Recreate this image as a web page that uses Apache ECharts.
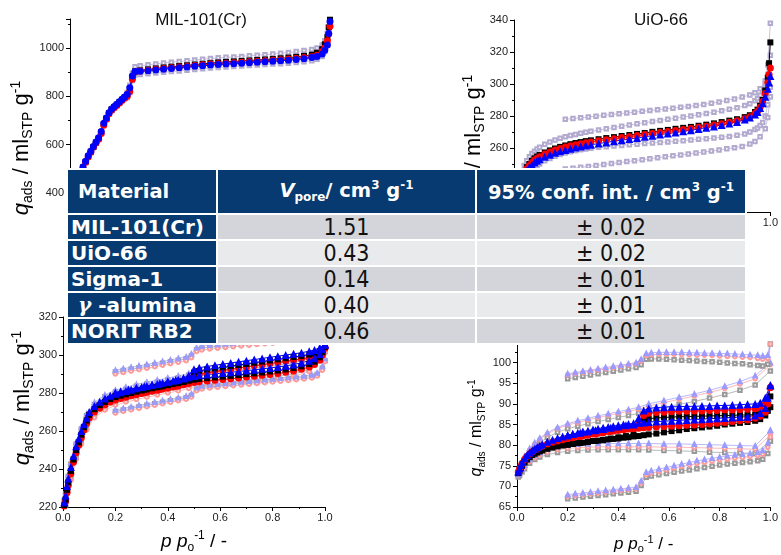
<!DOCTYPE html>
<html>
<head>
<meta charset="UTF-8">
<title>Isotherms and pore volumes</title>
<script src="https://cdn.jsdelivr.net/npm/echarts@6/dist/echarts.min.js"></script>
<style>
  body { margin: 0; background: #fff; }
  #wrap { position: relative; width: 781px; height: 555px; }
  #chart { position: absolute; left: 0; top: 0; width: 781px; height: 555px; }
  #tbl { position: absolute; left: 66px; top: 168px; border-collapse: separate; border-spacing: 2px;
         table-layout: fixed; background: #fff; font-family: "DejaVu Sans", sans-serif; }
  #tbl th { height: 43px; padding: 0; background: #063a70; color: #fff; font-weight: bold; font-size: 19.5px; }
  #tbl th.first { text-align: left; padding-left: 10px; }
  #tbl td { height: 24px; padding: 0; line-height: 24px; }
  #tbl td.mat { background: #063a70; color: #fff; font-weight: bold; font-size: 20px; padding-left: 3px; white-space: nowrap; }
  #tbl td.val { text-align: center; font-family: "DejaVu Sans Condensed", sans-serif; font-size: 23px; color: #111; }
  #tbl tr.odd td.val { background: #d4d5da; }
  #tbl tr.even td.val { background: #e9eaec; }
  #tbl sub, #tbl sup { font-size: 12px; }
</style>
</head>
<body>
<div id="wrap">
  <div id="chart"></div>
  <table id="tbl"></table>
</div>
<script type="text/javascript">
// ---- table data ----
var materials = ['MIL-101(Cr)', 'UiO-66', 'Sigma-1', 'γ-alumina', 'NORIT RB2'];
var vpore = ['1.51', '0.43', '0.14', '0.40', '0.46'];
var confInt = ['± 0.02', '± 0.02', '± 0.01', '± 0.01', '± 0.01'];

// ---- MIL-101(Cr) ----
var pA = [0.005,0.01,0.015,0.02,0.03,0.04,0.05,0.06,0.07,0.08,0.09,0.10,0.11,0.12,0.13,0.14,0.15,0.16,0.17,0.18,0.19,0.20,0.21,0.22,0.23,0.24,0.25,0.27,0.30,0.33,0.36,0.39,0.42,0.45,0.48,0.51,0.54,0.57,0.60,0.63,0.66,0.69,0.72,0.75,0.78,0.81,0.84,0.87,0.90,0.93,0.95,0.97,0.98,0.99,0.995,1.0];
var blackA = [300,330,355,380,420,465,505,528,551,570,590,608,625,650,685,708,730,745,755,765,775,785,795,805,830,880,903,907,911,915,919,922,925,928,931,934,937,940,942,944,946,948,950,952,954,957,960,963,967,972,980,995,1015,1045,1085,1117];
var redA = [298,327,352,377,417,462,502,526,548,568,588,606,622,646,680,705,727,742,752,762,772,782,792,800,820,870,900,904,908,912,915,918,921,924,927,930,933,935,937,939,941,943,945,947,949,951,954,957,960,964,970,985,1000,1030,1058,1090];
var blueA = [302,333,358,383,423,468,507,530,553,572,592,610,628,654,688,710,732,747,757,767,777,787,797,808,835,884,902,903,906,909,912,915,918,921,924,926,929,931,933,935,937,939,941,943,945,947,949,952,955,960,965,975,990,1012,1060,1110];
var pBandA = [0.22,0.23,0.24,0.25,0.27,0.30,0.33,0.36,0.39,0.42,0.45,0.48,0.51,0.54,0.57,0.60,0.63,0.66,0.69,0.72,0.75,0.78,0.81,0.84,0.87,0.90,0.93,0.95,0.97,0.98,0.99];
var upA = [815,845,895,922,926,930,934,938,941,944,947,950,953,956,959,961,963,965,968,970,972,975,978,981,985,989,994,1000,1012,1030,1060];
var lowA = [795,815,865,888,890,893,896,899,902,905,908,911,914,917,919,921,923,925,927,929,931,933,935,937,940,943,947,953,965,985,1020];

// ---- UiO-66 ----
var pAdsB = [0.005,0.01,0.02,0.03,0.04,0.05,0.06,0.07,0.08,0.09,0.10,0.12,0.14,0.16,0.18,0.20,0.22,0.24,0.26,0.28,0.30,0.33,0.36,0.39,0.42,0.45,0.48,0.51,0.54,0.57,0.60,0.63,0.66,0.69,0.72,0.75,0.78,0.81,0.84,0.87,0.90,0.92,0.94,0.95,0.96,0.97,0.98,0.99,0.995,1.0];
var blackB = [228,233,238,242,245,248,250,252,253.5,254.6,255.6,257.2,258.5,259.7,260.7,261.6,262.4,263.1,263.7,264.3,264.8,265.5,266.2,266.8,267.5,268.1,268.8,269.4,270.1,270.7,271.3,272,272.6,273.2,273.9,274.6,275.4,276.2,277.1,278,279.3,280.5,282.5,284,286.5,290,296,304,313,326];
var redB = [227,232,237,241,244,247,249,251,252.5,253.6,254.6,256.2,257.5,258.7,259.7,260.6,261.4,262.1,262.7,263.3,263.8,264.5,265.2,265.8,266.5,267.1,267.8,268.4,269.1,269.7,270.3,271,271.6,272.2,272.9,273.6,274.4,275.2,276.1,277,278.3,279.5,281.5,283,285.5,289,294,301,306,310];
var blueB = [226,231,236,240,243,246,248,249.5,251,252,253,254.6,255.8,257,258,258.8,259.6,260.3,260.9,261.5,262,262.8,263.5,264.2,264.9,265.6,266.3,267,267.7,268.4,269,269.7,270.4,271.1,271.9,272.7,273.5,274.4,275.3,276.3,277.8,279,281,282.5,285,288,292,297,301,305];
var upAdsB = [231,236,241,245,249,252,254.5,256.5,258,259.3,260.5,262.3,263.8,265,266.1,267,267.8,268.5,269.2,269.8,270.4,271.2,272,272.8,273.6,274.3,275.1,275.8,276.5,277.2,277.9,278.6,279.3,280,280.8,281.6,282.4,283.3,284.2,285.2,286.5,287.7,289.5,291,293,296,300,306,311,318];
var lowAdsB = [222,227,232,236,239,242,244,246,247.5,248.8,250,252,253.5,254.8,255.9,256.8,257.6,258.3,258.9,259.4,259.9,260.4,260.8,261.2,261.6,262,262.4,262.8,263.2,263.5,263.8,264.2,264.6,265,265.4,265.8,266.2,266.7,267.2,267.9,268.8,270,271.5,272.5,274,276,280,287,292,298];
var pDesB = [0.20,0.23,0.26,0.29,0.32,0.35,0.38,0.41,0.44,0.47,0.50,0.53,0.56,0.59,0.62,0.65,0.68,0.71,0.74,0.77,0.80,0.83,0.86,0.89,0.92,0.94,0.96,0.98,0.99,1.0];
var upDesB = [277.9,278.4,278.9,279.4,279.9,280.4,280.9,281.4,281.9,282.4,282.9,283.4,283.9,284.4,284.9,285.4,285.9,286.5,287.2,288,288.8,289.7,290.7,291.8,293.2,294.5,297,302,312,338];
var lowDesB = [246.8,247.3,247.9,248.5,249.1,249.7,250.3,250.9,251.5,252.1,252.7,253.3,253.9,254.5,255.1,255.7,256.3,256.9,257.5,258.1,258.8,259.5,260.2,261,262.5,264,267,272,279,292];

// ---- shared pressure grids for the two lower panels ----
var pAds = [0.005,0.01,0.015,0.02,0.03,0.04,0.05,0.06,0.07,0.08,0.09,0.10,0.12,0.14,0.16,0.18,0.20,0.22,0.24,0.26,0.28,0.30,0.32,0.34,0.36,0.38,0.40,0.42,0.44,0.46,0.48,0.50,0.52,0.55,0.58,0.61,0.64,0.67,0.70,0.73,0.76,0.79,0.82,0.85,0.88,0.91,0.94,0.96,0.98,0.99,1.0];
var pDes = [1.0,0.98,0.96,0.94,0.91,0.88,0.85,0.82,0.79,0.76,0.73,0.70,0.67,0.64,0.61,0.58,0.55,0.52,0.50,0.48,0.46,0.43,0.40,0.37,0.34,0.31,0.28,0.25,0.22,0.20];
var pBandAds = [0.005,0.01,0.02,0.03,0.05,0.07,0.09,0.12,0.16,0.20,0.24,0.28,0.32,0.36,0.40,0.44,0.48,0.52,0.58,0.64,0.70,0.76,0.82,0.88,0.94,1.0];
var pBandDes = [0.20,0.23,0.26,0.29,0.32,0.35,0.38,0.41,0.44,0.47,0.49,0.51,0.53,0.56,0.59,0.62,0.65,0.68,0.71,0.74,0.77,0.80,0.83,0.86,0.89,0.92,0.95,0.97,0.99,1.0];

// ---- lower left panel ----
var blackAdsC = [221,224,229,233,239,245,250,254,258,262,265.5,268.5,271.5,273.6,275.3,276.8,277.8,278.6,279.3,280,280.7,281.3,281.9,282.5,283,283.6,284.1,284.7,285.2,285.8,286.5,287,287.4,287.8,288.2,288.6,289,289.4,289.9,290.3,290.8,291.3,291.8,292.4,293.1,294,295.2,296.5,298.8,301.5,304.5];
var redAdsC = [220.5,223,227.5,231.5,237.5,243.5,248.5,252.5,256.5,260.5,264,267,270,272,273.8,275.3,276.3,277.1,277.8,278.5,279.2,279.8,280.4,281,281.5,282.1,282.6,283.2,283.7,284.3,285,285.5,285.9,286.3,286.7,287.1,287.5,287.9,288.4,288.8,289.3,289.8,290.3,290.9,291.6,292.5,293.7,295,297.3,300,304];
var blueAdsC = [222.5,226,231,235,241,247,252,256,260,263.5,267,270,273.2,275.4,277.1,278.6,279.6,280.4,281.1,281.8,282.5,283.1,283.7,284.3,284.8,285.4,285.9,286.5,287,287.6,288.3,289,289.3,289.7,290.1,290.5,290.9,291.3,291.8,292.2,292.7,293.2,293.7,294.3,295,295.9,297,298.3,300.5,303,305.5];
var blackDesC = [304.5,302,300.8,300.2,299.5,298.9,298.3,297.7,297.1,296.5,295.9,295.3,294.7,294.1,293.5,292.9,292.3,291.6,290.8,287.5,286.2,285.2,284.3,283.4,282.6,281.8,281,280.1,279.2,278.5];
var redDesC = [303.5,300.4,299.2,298.6,297.9,297.3,296.7,296.1,295.5,294.9,294.3,293.7,293.1,292.5,291.9,291.3,290.7,290,289.2,285.9,284.6,283.6,282.7,281.8,281,280.2,279.4,278.5,277.6,276.9];
var blueDesC = [305.5,303.8,302.6,302,301.2,300.6,300,299.4,298.8,298.2,297.6,297,296.4,295.8,295.2,294.6,294,293.3,292.5,289.2,287.9,286.9,286,285.1,284.3,283.5,282.7,281.8,280.9,280.2];
var upAdsBlueC = [224,228,237,243.5,254,262,269,275,279,281.5,283,284.5,285.7,286.8,287.9,289,290.3,291.2,292,292.8,293.7,294.6,295.6,297,299.2,306];
var upAdsGrayC = [223.5,227,236,242.5,253,261,268,274,278,280.5,282,283.5,284.7,285.8,286.9,288,289.3,290.2,291,291.8,292.7,293.6,294.6,296,298.2,305.5];
var lowAdsGrayC = [219,221,229,235,246,254,261.5,268,272,274.6,276.2,277.6,278.8,279.9,281,282.1,283.4,284.3,285.1,285.9,286.8,287.7,288.7,290,292.2,302];
var lowAdsRedC = [218.5,220.5,228,234,245,253,260.5,267,271,273.6,275.2,276.6,277.8,278.9,280,281.1,282.4,283.3,284.1,284.9,285.8,286.7,287.7,289,291.2,301];
var upDesBlueC = [292,292.8,293.5,294.3,295,295.8,296.6,297.4,298.2,299,300.5,303.8,304.6,305.1,305.5,305.9,306.3,306.7,307.1,307.5,307.9,308.2,308.6,309,309.3,309.6,310,310.3,309,306];
var upDesGrayC = [291,291.8,292.5,293.3,294,294.8,295.6,296.4,297.2,298,299.5,302.8,303.6,304.1,304.5,304.9,305.3,305.7,306.1,306.5,306.9,307.2,307.6,308,308.3,308.6,309,309.3,308,305.5];
var upDesRedC = [290,290.8,291.5,292.3,293,293.8,294.6,295.4,296.2,297,298.5,301.8,302.6,303.1,303.5,303.9,304.3,304.7,305.1,305.5,305.9,306.2,306.6,307,307.3,307.6,308,308.3,307,305];
var lowDesBlueC = [271,271.9,272.7,273.5,274.3,275.1,275.9,276.7,277.5,278.3,279.5,282.8,283.7,284.2,284.6,285,285.4,285.8,286.2,286.6,287,287.4,287.8,288.2,288.6,289,289.5,290.5,294,298];
var lowDesGrayC = [270.2,271.1,271.9,272.7,273.5,274.3,275.1,275.9,276.7,277.5,278.7,282,282.9,283.4,283.8,284.2,284.6,285,285.4,285.8,286.2,286.6,287,287.4,287.8,288.2,288.7,289.7,293,297];
var lowDesRedC = [269.4,270.3,271.1,271.9,272.7,273.5,274.3,275.1,275.9,276.7,277.9,281.2,282.1,282.6,283,283.4,283.8,284.2,284.6,285,285.4,285.8,286.2,286.6,287,287.4,287.9,288.9,292,296.5];

// ---- lower right panel ----
var blackAdsD = [73.2,73.8,74.4,75,75.8,76.5,77.1,77.6,77.9,78.2,78.5,78.7,79.1,79.4,79.7,79.9,80.1,80.3,80.5,80.6,80.8,81,81.1,81.2,81.4,81.5,81.6,81.8,81.9,82.1,82.2,82.4,82.6,82.8,83.1,83.4,83.6,83.9,84.1,84.3,84.5,84.7,85,85.2,85.4,85.6,85.9,86.3,87.2,88.3,89.2];
var redAdsD = [73.5,74.2,74.9,75.6,76.5,77.3,77.9,78.4,78.8,79.2,79.5,79.8,80.3,80.7,81,81.3,81.6,81.9,82.1,82.3,82.5,82.7,82.9,83.1,83.3,83.4,83.6,83.7,83.9,84,84.1,84.2,84.3,84.4,84.5,84.6,84.7,84.8,84.9,85,85.1,85.3,85.5,85.7,85.9,86.1,86.5,87,88,90,94];
var blueAdsD = [73.6,74.4,75.2,75.9,76.8,77.6,78.2,78.7,79.1,79.5,79.9,80.2,80.8,81.3,81.7,82.1,82.4,82.7,83,83.3,83.5,83.8,84,84.2,84.4,84.6,84.8,85,85.1,85.3,85.4,85.5,85.6,85.7,85.8,85.9,86,86.1,86.2,86.3,86.4,86.5,86.6,86.7,86.8,86.9,87.2,87.8,89,91.5,94.5];
var blackDesD = [91.8,88.2,87.5,87.4,87.3,87.3,87.2,87.2,87.1,87.1,87,87,86.9,86.9,86.8,86.7,86.6,86.4,86,84.5,82.6,82.2,81.9,81.6,81.3,81,80.8,80.5,80.3,80.1];
var redDesD = [94,90,89,88.8,88.7,88.6,88.5,88.5,88.4,88.4,88.3,88.3,88.2,88.2,88.1,88,87.9,87.7,87.2,85.5,84.2,83.9,83.6,83.3,83,82.7,82.4,82.1,81.8,81.6];
var blueDesD = [94.5,91.5,90.3,90,89.9,89.8,89.7,89.6,89.6,89.5,89.5,89.4,89.4,89.3,89.3,89.2,89.1,88.9,88.4,86.6,85,84.8,84.5,84.2,83.9,83.6,83.3,83,82.7,82.4];
var upAdsBlueD = [74,74.5,76,77.3,79.2,80.6,81.7,83,84.3,85.2,85.9,86.5,87.1,87.6,88.1,88.6,89.2,90,90.8,91.6,92.4,93.3,94.3,95.4,96.8,100];
var upAdsRedD = [73.8,74.3,75.7,77,78.9,80.3,81.4,82.7,84,84.9,85.5,86.1,86.7,87.2,87.7,88.2,88.7,89.5,90.3,91.1,91.9,92.8,93.7,94.8,96.1,99.5];
var upAdsGrayD = [73.5,74,75.3,76.5,78.3,79.6,80.6,81.9,83.1,84,84.6,85.2,85.7,86.2,86.7,87.2,87.7,88.4,89.1,89.9,90.6,91.4,92.3,93.3,94.6,98];
var lowAdsBlueD = [72.8,73.2,74.2,75.1,76.5,77.5,78.2,79,79.6,80,80.2,80.3,80.4,80.4,80.4,80.4,80.4,80.4,80.3,80.3,80.2,80.1,80,79.9,79.8,83.5];
var lowAdsRedD = [72.6,73,73.9,74.7,76,77,77.6,78.3,78.9,79.2,79.4,79.5,79.6,79.6,79.6,79.6,79.6,79.6,79.5,79.5,79.4,79.3,79.2,79.1,79,82.5];
var lowAdsGrayD = [72.3,72.6,73.5,74.3,75.6,76.5,77.1,77.7,78.2,78.5,78.7,78.8,78.9,78.9,78.9,78.9,78.9,78.8,78.7,78.6,78.5,78.3,78.2,78.1,78,81];
var upDesBlueD = [97.3,97.6,97.9,98.2,98.5,98.8,99.1,99.4,99.7,100,100.8,102.2,102.4,102.5,102.5,102.5,102.5,102.4,102.4,102.3,102.3,102.2,102.2,102.1,102,101.9,101.8,101.6,101.8,105.2];
var upDesRedD = [97,97.3,97.6,97.9,98.2,98.5,98.8,99.1,99.4,99.7,100.4,101.7,101.9,102,102,102,101.9,101.9,101.8,101.8,101.7,101.6,101.5,101.4,101.3,101.2,101,100.8,101,104.5];
var upDesGrayD = [96.1,96.4,96.7,97,97.3,97.6,97.9,98.2,98.5,98.8,99.5,100.8,100.9,100.9,100.8,100.7,100.6,100.5,100.4,100.3,100.2,100.1,99.9,99.8,99.7,99.5,99.3,99.2,99.6,104.5];
var lowDesBlueD = [68,68.2,68.4,68.6,68.8,69,69.2,69.4,69.6,69.8,71.3,73.4,73.8,74.2,74.6,75,75.4,75.8,76.2,76.5,76.8,77.1,77.4,77.6,77.8,78,78.3,78.7,80.5,83.6];
var lowDesRedD = [67.6,67.8,68,68.2,68.4,68.6,68.8,69,69.2,69.4,70.8,72.8,73.2,73.6,74,74.4,74.8,75.2,75.5,75.8,76.1,76.4,76.6,76.8,77,77.2,77.4,77.8,79.5,82];
var lowDesGrayD = [67,67.2,67.4,67.6,67.8,68,68.2,68.4,68.6,68.8,70.2,72.2,72.5,72.8,73.1,73.4,73.7,74,74.3,74.6,74.9,75.2,75.4,75.6,75.8,76,76.2,76.6,78,81];

// ---- table ----
var html = '<tr><th class="first" style="width:138px">Material</th>' +
  '<th style="width:257px"><i>V</i><sub>pore</sub>/ cm<sup>3</sup> g<sup>-1</sup></th>' +
  '<th style="width:268px">95% conf. int. / cm<sup>3</sup> g<sup>-1</sup></th></tr>';
materials.forEach(function (m, i) {
  var name = m.replace('γ', '&nbsp;<i style="font-family:\'DejaVu Serif\'">γ</i>&nbsp;');
  html += '<tr class="' + (i % 2 ? 'even' : 'odd') + '"><td class="mat">' + name + '</td>' +
    '<td class="val">' + vpore[i] + '</td><td class="val">' + confInt[i] + '</td></tr>';
});
document.getElementById('tbl').innerHTML = html;

// ---- chart ----
var BLACK = '#000000', RED = '#ff0000', BLUE = '#0000ff';
var GRAY_B = '#999999', RED_B = '#ff9a9a', BLUE_B = '#9a9aff', MIX_B = '#b3aacf';

function pts(xs, ys) {
  return xs.map(function (x, i) { return [x, ys[i]]; });
}
function main(g, xs, ys, color, symbol, size) {
  return { type: 'line', xAxisIndex: g, yAxisIndex: g, data: pts(xs, ys), symbol: symbol, symbolSize: size,
    itemStyle: { color: color }, lineStyle: { color: color, width: 1 }, z: 3 };
}
function band(g, xs, ys, color, symbol) {
  return { type: 'line', xAxisIndex: g, yAxisIndex: g, data: pts(xs, ys), symbol: symbol, symbolSize: 3.5,
    itemStyle: { color: color, borderWidth: 0.8 }, lineStyle: { color: color, width: 0.7 }, z: 2 };
}

var font = 'Liberation Sans';
var axisLine = { lineStyle: { color: '#000', width: 1 } };
function richSet(big, small, lh) {
  return {
    q: { fontSize: big, fontStyle: 'italic', fontFamily: font, lineHeight: lh, fill: '#000', color: '#000' },
    n: { fontSize: big, fontFamily: font, lineHeight: lh, fill: '#000', color: '#000' },
    sub: { fontSize: small, fontFamily: font, verticalAlign: 'bottom', lineHeight: lh, fill: '#000', color: '#000' },
    sup: { fontSize: small, fontFamily: font, verticalAlign: 'top', lineHeight: lh, fill: '#000', color: '#000' }
  };
}
var yName = '{q|q}{sub|ads}{n| / ml}{sub|STP}{n| g}{sup|-1}';
var xName = '{q|p p}{sub|o}{sup|-1}{n| / -}';

// rotated y-axis titles, placed by centre point
function yTitle(cx, cy, big, small, lh) {
  return { type: 'text', x: cx, y: cy, rotation: Math.PI / 2, z: 10,
    style: { text: yName, rich: richSet(big, small, lh), fill: '#000', font: big + 'px "Liberation Sans"',
      textAlign: 'center', textVerticalAlign: 'middle' } };
}

function xAxis(g, nm, showLabels) {
  var a = {
    type: 'value', gridIndex: g, min: 0, max: 1, interval: 0.2,
    axisLine: axisLine, splitLine: { show: false },
    axisTick: { length: 4, lineStyle: { color: '#000' } },
    minorTick: { show: true, splitNumber: 2, length: 2, lineStyle: { color: '#000' } },
    axisLabel: { show: showLabels, fontSize: 11, fontFamily: font, color: '#222', margin: 5,
      formatter: function (v) { return v.toFixed(1); } }
  };
  if (nm) {
    a.name = xName; a.nameLocation = 'middle'; a.nameGap = nm.gap;
    a.nameTextStyle = { fontFamily: font, color: '#000', rich: richSet(nm.big, nm.small, nm.lh) };
  }
  return a;
}
function yAxis(g, min, max, step, showMin) {
  return {
    type: 'value', gridIndex: g, min: min, max: max, interval: step,
    axisLine: axisLine, splitLine: { show: false },
    axisTick: { length: 4, lineStyle: { color: '#000' } },
    minorTick: { show: true, splitNumber: 2, length: 2, lineStyle: { color: '#000' } },
    axisLabel: { fontSize: 11, fontFamily: font, color: '#222', margin: 6, showMinLabel: showMin,
      formatter: function (v) { return Math.abs((v - min) % step) < 1e-6 ? String(v) : ''; } }
  };
}

var series = [
  // MIL-101(Cr)
  band(0, pBandA, upA, MIX_B, 'emptyRect'),
  band(0, pBandA, lowA, MIX_B, 'emptyRect'),
  main(0, pA, blackA, BLACK, 'rect', 6),
  main(0, pA, redA, RED, 'circle', 7),
  main(0, pA, blueA, BLUE, 'circle', 7),
  // UiO-66
  band(1, pAdsB, upAdsB, MIX_B, 'emptyRect'),
  band(1, pAdsB, lowAdsB, MIX_B, 'emptyRect'),
  band(1, pDesB, upDesB, MIX_B, 'emptyRect'),
  band(1, pDesB, lowDesB, MIX_B, 'emptyRect'),
  main(1, pAdsB, blackB, BLACK, 'rect', 6),
  main(1, pAdsB, redB, RED, 'circle', 7),
  main(1, pAdsB, blueB, BLUE, 'triangle', 8),
  // lower left
  band(2, pBandAds, upAdsGrayC, GRAY_B, 'emptyRect'),
  band(2, pBandAds, upAdsBlueC, BLUE_B, 'emptyTriangle'),
  band(2, pBandAds, lowAdsGrayC, GRAY_B, 'emptyRect'),
  band(2, pBandAds, lowAdsRedC, RED_B, 'emptyCircle'),
  band(2, pBandDes, upDesGrayC, GRAY_B, 'emptyRect'),
  band(2, pBandDes, upDesRedC, RED_B, 'emptyCircle'),
  band(2, pBandDes, upDesBlueC, BLUE_B, 'emptyTriangle'),
  band(2, pBandDes, lowDesGrayC, GRAY_B, 'emptyRect'),
  band(2, pBandDes, lowDesRedC, RED_B, 'emptyCircle'),
  band(2, pBandDes, lowDesBlueC, BLUE_B, 'emptyTriangle'),
  main(2, pAds, redAdsC, RED, 'circle', 7),
  main(2, pDes, redDesC, RED, 'circle', 7),
  main(2, pAds, blackAdsC, BLACK, 'rect', 6),
  main(2, pDes, blackDesC, BLACK, 'rect', 6),
  main(2, pAds, blueAdsC, BLUE, 'triangle', 8),
  main(2, pDes, blueDesC, BLUE, 'triangle', 8),
  // lower right
  band(3, pBandAds, upAdsGrayD, GRAY_B, 'emptyRect'),
  band(3, pBandAds, upAdsRedD, RED_B, 'emptyCircle'),
  band(3, pBandAds, upAdsBlueD, BLUE_B, 'emptyTriangle'),
  band(3, pBandAds, lowAdsGrayD, GRAY_B, 'emptyRect'),
  band(3, pBandAds, lowAdsRedD, RED_B, 'emptyCircle'),
  band(3, pBandAds, lowAdsBlueD, BLUE_B, 'emptyTriangle'),
  band(3, pBandDes, upDesGrayD, GRAY_B, 'emptyRect'),
  band(3, pBandDes, upDesRedD, RED_B, 'emptyCircle'),
  band(3, pBandDes, upDesBlueD, BLUE_B, 'emptyTriangle'),
  band(3, pBandDes, lowDesGrayD, GRAY_B, 'emptyRect'),
  band(3, pBandDes, lowDesRedD, RED_B, 'emptyCircle'),
  band(3, pBandDes, lowDesBlueD, BLUE_B, 'emptyTriangle'),
  main(3, pAds, blackAdsD, BLACK, 'rect', 6),
  main(3, pDes, blackDesD, BLACK, 'rect', 6),
  main(3, pAds, redAdsD, RED, 'circle', 7),
  main(3, pDes, redDesD, RED, 'circle', 7),
  main(3, pAds, blueAdsD, BLUE, 'triangle', 8),
  main(3, pDes, blueDesD, BLUE, 'triangle', 8)
];

var chart = echarts.init(document.getElementById('chart'));
chart.setOption({
  animation: false,
  backgroundColor: '#fff',
  grid: [
    { left: 70, top: 19, width: 260, height: 222 },
    { left: 514, top: 20, width: 262, height: 192 },
    { left: 63, top: 317, width: 262, height: 192 },
    { left: 517, top: 342, width: 259, height: 170 }
  ],
  graphic: [
    { type: 'text', x: 201, y: 20, style: { text: 'MIL-101(Cr)', font: '17px "Liberation Sans"', fill: '#111', textAlign: 'center', textVerticalAlign: 'middle' } },
    { type: 'text', x: 661, y: 20, style: { text: 'UiO-66', font: '17px "Liberation Sans"', fill: '#111', textAlign: 'center', textVerticalAlign: 'middle' } },
    yTitle(22, 148, 22, 14, 26),
    yTitle(474, 142, 22, 14, 26),
    yTitle(23, 398, 22, 14, 26),
    yTitle(477, 428, 16, 10, 20)
  ],
  xAxis: [
    xAxis(0, null, false),
    xAxis(1, null, true),
    xAxis(2, { gap: 23, big: 19, small: 12, lh: 24 }, true),
    xAxis(3, { gap: 27, big: 17, small: 11, lh: 20 }, true)
  ],
  yAxis: [
    yAxis(0, 200, 1120, 200, false),
    yAxis(1, 220, 340, 20, true),
    yAxis(2, 220, 320, 20, true),
    yAxis(3, 65, 105, 5, true)
  ],
  series: series
});
</script>
</body>
</html>
